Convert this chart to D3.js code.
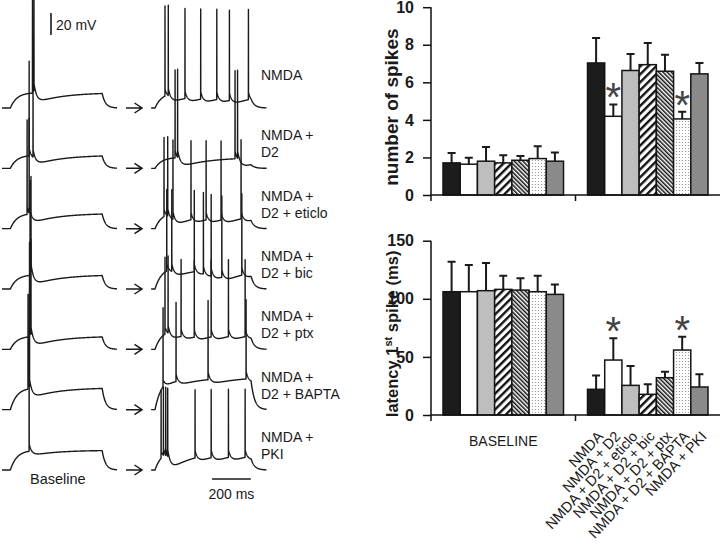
<!DOCTYPE html>
<html><head><meta charset="utf-8">
<script src="https://cdn.jsdelivr.net/npm/d3@7"></script>
<style>
body{margin:0;background:#fff}
svg{display:block}
text{font-family:"Liberation Sans",Arial,Helvetica,sans-serif;fill:#1a1a1a}
</style>
</head><body>
<svg id="c" width="720" height="552"></svg>
<script>
// ---------------- DATA ----------------
const groups = ["BASELINE", "NMDA"];
const conditions = ["NMDA", "NMDA + D2", "NMDA + D2 + eticlo", "NMDA + D2 + bic",
                    "NMDA + D2 + ptx", "NMDA + D2 + BAPTA", "NMDA + PKI"];
const significant = [false, true, false, false, false, true, false];

// number of spikes
const spikesBaselineMean = [1.71, 1.64, 1.80, 1.71, 1.85, 1.94, 1.80];
const spikesBaselineSem  = [0.53, 0.34, 0.76, 0.41, 0.23, 0.66, 0.46];
const spikesNmdaMean     = [7.03, 4.19, 6.63, 6.94, 6.59, 4.05, 6.45];
const spikesNmdaSem      = [1.33, 0.63, 0.88, 1.15, 0.88, 0.38, 0.58];
const spikesTicks = [0, 2, 4, 6, 8, 10];

// latency of 1st spike (ms)
const latencyBaselineMean = [106.1, 106.1, 107.0, 108.1, 107.5, 106.1, 103.8];
const latencyBaselineSem  = [25.8, 22.9, 23.8, 11.8, 10.1, 13.8, 8.6];
const latencyNmdaMean     = [22.1, 47.3, 25.5, 17.8, 32.1, 55.9, 24.1];
const latencyNmdaSem      = [12.0, 18.7, 16.7, 8.6, 5.2, 11.5, 10.9];
const latencyTicks = [0, 50, 100, 150];

// traces: spike times (ms from sweep start), plateau (mV), spike amplitude (mV)
const traceLabels = [["NMDA"], ["NMDA +", "D2"], ["NMDA +", "D2 + eticlo"], ["NMDA +", "D2 + bic"],
                     ["NMDA +", "D2 + ptx"], ["NMDA +", "D2 + BAPTA"], ["NMDA +", "PKI"]];
const baselineSpikeTimes = [[164, 172], [146, 167], [135, 146], [151, 156], [148, 156], [140, 148], [146]];
const baselinePlateau = [14, 12, 14, 13, 12, 20, 18];
const baselineSpikeAmp = [88, 86, 86, 86, 86, 86, 86];
const treatmentSpikeTimes = [
  [96, 113, 199, 280, 363, 428, 526],
  [148, 161, 457, 470],
  [91, 110, 137, 230, 308, 385, 488],
  [105, 131, 247, 294, 334, 389, 492],
  [96, 112, 179, 247, 334, 423, 509],
  [86, 153, 318, 514],
  [76, 88, 100, 110, 251, 334, 423, 509]
];
const treatmentPlateau = [14, 10, 15, 20, 18, 30, 18];
const treatmentSpikeAmp = [82, 80, 72, 74, 70, 72, 62];
const stepOn = 45, stepOff = 540, sweepEnd = 620;

// ---------------- DRAW ----------------
const svg = d3.select("#c");
const defs = svg.append("defs");
function stripes(id, period, w, angle) {
  const p = defs.append("pattern").attr("id", id).attr("patternUnits", "userSpaceOnUse")
    .attr("width", period).attr("height", period).attr("patternTransform", `rotate(${angle})`);
  p.append("rect").attr("width", period).attr("height", period).attr("fill", "#fff");
  p.append("rect").attr("width", w).attr("height", period).attr("fill", "#111");
}
stripes("hatchA", 5.6, 2.4, 45);
stripes("hatchB", 3.0, 1.5, -45);
const dp = defs.append("pattern").attr("id", "dots").attr("patternUnits", "userSpaceOnUse")
  .attr("width", 3).attr("height", 3);
dp.append("rect").attr("width", 3).attr("height", 3).attr("fill", "#fff");
dp.append("circle").attr("cx", 1.5).attr("cy", 1.5).attr("r", 0.6).attr("fill", "#8a8a8a");
const fills = ["#1c1c1c", "#ffffff", "#bebebe", "url(#hatchA)", "url(#hatchB)", "url(#dots)", "#8a8a8a"];

const xOuter = d3.scaleBand().domain(groups).range([431, 720]).paddingInner(0.166).paddingOuter(0.083);
const xInner = d3.scaleBand().domain(conditions).range([0, xOuter.bandwidth()]);

function barChart(yScale, ticks, means, sems, titleSize, title) {
  const g = svg.append("g");
  const data = [];
  groups.forEach((gn, gi) => conditions.forEach((c, ci) => data.push({
    g: gn, c, ci, mean: means[gi][ci], sem: sems[gi][ci], sig: gi === 1 && significant[ci]
  })));
  const cx = d => xOuter(d.g) + xInner(d.c) + xInner.bandwidth() / 2;
  // error bars
  g.selectAll(".err").data(data).join("path")
    .attr("d", d => `M${cx(d)},${yScale(d.mean)}V${yScale(d.mean + d.sem)}M${cx(d) - 4},${yScale(d.mean + d.sem)}H${cx(d) + 4}`)
    .attr("stroke", "#1a1a1a").attr("stroke-width", 2).attr("fill", "none");
  // bars
  g.selectAll(".bar").data(data).join("rect")
    .attr("x", d => xOuter(d.g) + xInner(d.c))
    .attr("y", d => yScale(d.mean))
    .attr("width", xInner.bandwidth())
    .attr("height", d => yScale(0) - yScale(d.mean))
    .attr("fill", d => fills[d.ci])
    .attr("stroke", "#151515").attr("stroke-width", 1.5);
  // asterisks
  g.selectAll(".ast").data(data.filter(d => d.sig)).join("text")
    .attr("x", cx).attr("y", d => yScale(d.mean + d.sem) + 7)
    .attr("text-anchor", "middle").attr("font-size", 40).style("fill", "#444")
    .text("*");
  // y axis
  const ya = g.append("g").attr("transform", `translate(431,0)`)
    .call(d3.axisLeft(yScale).tickValues(ticks).tickSize(8).tickPadding(9));
  ya.select(".domain").remove();
  ya.selectAll("line").attr("stroke", "#111").attr("stroke-width", 1.5);
  ya.selectAll("text").attr("font-size", 16).attr("font-weight", "bold")
    .attr("font-family", '"Liberation Sans",Arial,sans-serif').style("fill", "#1a1a1a");
  const y0 = yScale(0), yTop = yScale(ticks[ticks.length - 1]);
  g.append("path").attr("d", `M431,${yTop}V${y0 + 6}M431,${y0}H720`)
    .attr("stroke", "#111").attr("stroke-width", 1.5).attr("fill", "none");
  const midTick = xOuter(groups[1]) - xOuter.step() * xOuter.paddingInner() / 2;
  g.append("path").attr("d", `M${midTick},${y0}V${y0 + 6}`)
    .attr("stroke", "#111").attr("stroke-width", 1.5);
  // title
  const t = g.append("text").attr("transform", `translate(398,${(yTop + y0) / 2 + 6}) rotate(-90)`)
    .attr("text-anchor", "middle").attr("font-size", titleSize).attr("font-weight", "bold");
  title(t);
  return g;
}

const ySpikes = d3.scaleLinear().domain([0, 10]).range([195, 7.2]);
barChart(ySpikes, spikesTicks, [spikesBaselineMean, spikesNmdaMean], [spikesBaselineSem, spikesNmdaSem], 19,
  t => t.text("number of spikes"));
const yLat = d3.scaleLinear().domain([0, 150]).range([415, 240.7]);
barChart(yLat, latencyTicks, [latencyBaselineMean, latencyNmdaMean], [latencyBaselineSem, latencyNmdaSem], 16.5,
  t => {
    t.append("tspan").text("latency 1");
    t.append("tspan").attr("font-size", 11).attr("baseline-shift", "super").text("st");
    t.append("tspan").text(" spike (ms)");
  });

// x labels
svg.append("text").attr("x", xOuter("BASELINE") + xOuter.bandwidth() / 2).attr("y", 446)
  .attr("text-anchor", "middle").attr("font-size", 14).text("BASELINE");
svg.selectAll(".xl").data(conditions).join("text")
  .attr("transform", c => `translate(${xOuter("NMDA") + xInner(c) + xInner.bandwidth() / 2 + 8},437) rotate(-47)`)
  .attr("text-anchor", "end").attr("font-size", 14.5).text(c => c);

// ---------------- TRACES ----------------
const rowY = d3.scalePoint().domain(d3.range(7)).range([108, 470]);
const tLeft = d3.scaleLinear().domain([0, sweepEnd]).range([2, 117]);
const tMid = d3.scaleLinear().domain([0, sweepEnd]).range([146.3, 266.6]);
const mv = d3.scaleLinear().domain([0, 20]).range([0, 22]);

function tracePoints(spikes, plateau, amp, t0) {
  const tau = 35, tauOff = 18;
  const sub = t => {
    if (t < stepOn) return 0;
    const tt = Math.min(t, stepOff);
    let v = plateau * (1 - Math.exp(-(tt - stepOn) / tau));
    for (const s of spikes) if (tt >= s) {
      const d = tt - s;
      v += 7 * Math.exp(-d / 15) - 5 * (Math.exp(-d / 150) - Math.exp(-d / 15));
    }
    if (t > stepOff) v *= Math.exp(-(t - stepOff) / tauOff);
    return v;
  };
  const sorted = spikes.slice().sort((a, b) => a - b);
  const pts = [];
  let si = 0;
  for (let t = t0; t <= sweepEnd; t += 1) {
    while (si < sorted.length && sorted[si] <= t) {
      const s = sorted[si];
      const b = sub(s - 0.01);
      pts.push([s - 0.01, b], [s + 0.35, b + amp], [s + 0.8, b + 4]);
      si++;
    }
    pts.push([t, sub(t)]);
  }
  return pts;
}

const line = d3.line();
const tg = svg.append("g").attr("fill", "none").attr("stroke", "#1a1a1a").attr("stroke-width", 1.4)
  .attr("stroke-linejoin", "round");
baselineSpikeTimes.forEach((sp, i) => {
  const y = rowY(i);
  tg.append("path").attr("d", line(tracePoints(sp, baselinePlateau[i], baselineSpikeAmp[i], 0)
    .map(([t, v]) => [tLeft(t), y - mv(v)])));
});
treatmentSpikeTimes.forEach((sp, i) => {
  const y = rowY(i);
  tg.append("path").attr("d", line(tracePoints(sp, treatmentPlateau[i], treatmentSpikeAmp[i], 25)
    .map(([t, v]) => [tMid(t), y - mv(v)])));
});
// arrows
d3.range(7).forEach(i => {
  const y = rowY(i);
  svg.append("path").attr("d", `M126,${y}H142M134.5,${y - 5}L142,${y}L134.5,${y + 5}`)
    .attr("fill", "none").attr("stroke", "#1a1a1a").attr("stroke-width", 1.5);
});
// trace labels
traceLabels.forEach((lines, i) => {
  const y = rowY(i);
  lines.forEach((l, j) => svg.append("text").attr("x", 261).attr("y", y - 28 + j * 17)
    .attr("font-size", 14).text(l));
});
// scale bars
svg.append("path").attr("d", `M51,13V${13 + mv(20)}`).attr("stroke", "#1a1a1a").attr("stroke-width", 1.6);
svg.append("text").attr("x", 56).attr("y", 30).attr("font-size", 14).text("20 mV");
svg.append("path").attr("d", `M212,479H${212 + tMid(200) - tMid(0)}`).attr("stroke", "#1a1a1a").attr("stroke-width", 1.6);
svg.append("text").attr("x", 212 + (tMid(200) - tMid(0)) / 2).attr("y", 499).attr("text-anchor", "middle")
  .attr("font-size", 14).text("200 ms");
svg.append("text").attr("x", 30).attr("y", 484).attr("font-size", 14.5).text("Baseline");
</script>
</body></html>
